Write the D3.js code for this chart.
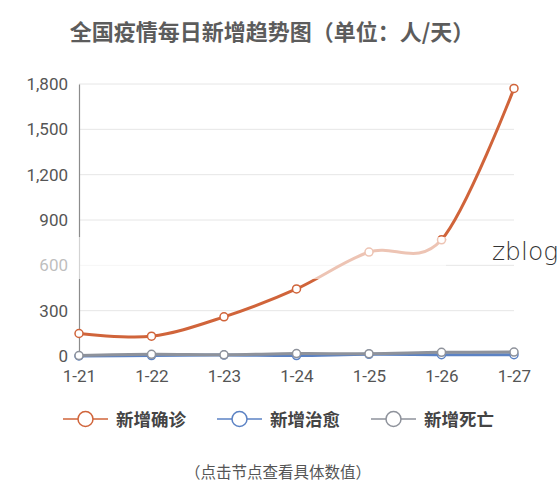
<!DOCTYPE html>
<html>
<head>
<meta charset="utf-8">
<script src="https://cdn.jsdelivr.net/npm/d3@7"></script>
<style>
  html, body { margin: 0; padding: 0; background: #fff; }
  svg { display: block; font-family: "Noto Sans CJK SC", "Noto Sans", sans-serif; }
</style>
</head>
<body>
<div id="chart"></div>
<script>
const days = ["1-21", "1-22", "1-23", "1-24", "1-25", "1-26", "1-27"];
const confirmed = [149, 131, 259, 444, 688, 769, 1771];
const cured = [0, 3, 6, 3, 11, 9, 9];
const deaths = [3, 11, 8, 16, 15, 24, 26];
const yTicks = [0, 300, 600, 900, 1200, 1500, 1800];
const seriesNames = ["新增确诊", "新增治愈", "新增死亡"];
const colors = ["#d0643a", "#5b82c4", "#8e929b"];

const width = 557;
const height = 500;
const margin = { top: 84, right: 43, bottom: 144, left: 79 };

const svg = d3.select("#chart").append("svg")
  .attr("width", width)
  .attr("height", height);

const x = d3.scalePoint()
  .domain(days)
  .range([margin.left, width - margin.right]);

const y = d3.scaleLinear()
  .domain([0, 1800])
  .range([height - margin.bottom, margin.top]);

// title
svg.append("text")
  .attr("x", 272)
  .attr("y", 40)
  .attr("text-anchor", "middle")
  .attr("font-size", 22)
  .attr("font-weight", "bold")
  .attr("fill", "#5c5c5c")
  .text("全国疫情每日新增趋势图（单位：人/天）");

// grid
svg.append("g")
  .selectAll("line")
  .data(yTicks.slice(1))
  .join("line")
  .attr("x1", margin.left)
  .attr("x2", width - margin.right)
  .attr("y1", d => y(d))
  .attr("y2", d => y(d))
  .attr("stroke", "#e6e6e6")
  .attr("stroke-width", 1);

// y axis
const gy = svg.append("g")
  .attr("transform", `translate(${margin.left},0)`)
  .call(d3.axisLeft(y).tickValues(yTicks).tickSize(0).tickPadding(11).tickFormat(d3.format(",")));
gy.select(".domain").attr("stroke", "#8c8c8c").attr("stroke-width", 1.2);
gy.selectAll("text")
  .attr("font-size", 17)
  .attr("fill", "#555")
  .attr("font-family", "Roboto, 'Noto Sans', sans-serif");

// x axis
const gx = svg.append("g")
  .attr("transform", `translate(0,${height - margin.bottom})`)
  .call(d3.axisBottom(x).tickSize(0).tickPadding(14));
gx.select(".domain").remove();
gx.selectAll("text")
  .attr("font-size", 17)
  .attr("fill", "#555")
  .attr("font-family", "Roboto, 'Noto Sans', sans-serif");

const line = d3.line()
  .x((d, i) => x(days[i]))
  .y(d => y(d))
  .curve(d3.curveCardinal.tension(0));

const series = [cured, deaths, confirmed];
const seriesColors = [colors[1], colors[2], colors[0]];

series.forEach((values, k) => {
  const g = svg.append("g");
  g.append("path")
    .datum(values)
    .attr("fill", "none")
    .attr("stroke", seriesColors[k])
    .attr("stroke-width", 3)
    .attr("d", line);
  g.selectAll("circle")
    .data(values)
    .join("circle")
    .attr("cx", (d, i) => x(days[i]))
    .attr("cy", d => y(d))
    .attr("r", 4)
    .attr("fill", "#fff")
    .attr("stroke", seriesColors[k])
    .attr("stroke-width", 1.5);
});

// faded band from the source picture
svg.append("rect")
  .attr("x", 0)
  .attr("y", 237)
  .attr("width", 446)
  .attr("height", 42)
  .attr("fill", "#fff")
  .attr("opacity", 0.62);

// watermark
svg.append("text")
  .attr("x", 492)
  .attr("y", 260)
  .attr("font-size", 25)
  .attr("font-family", "'DejaVu Sans', sans-serif")
  .attr("font-weight", 300)
  .attr("fill", "#333")
  .text("zblog");

// legend
const legend = svg.append("g");
const legendX = [63, 217, 371];
seriesNames.forEach((name, i) => {
  const lg = legend.append("g").attr("transform", `translate(${legendX[i]},419)`);
  lg.append("line")
    .attr("x1", 0).attr("x2", 45)
    .attr("stroke", colors[i]).attr("stroke-width", 1.5);
  lg.append("circle")
    .attr("cx", 22.5).attr("r", 7.5)
    .attr("fill", "#fff")
    .attr("stroke", colors[i]).attr("stroke-width", 1.5);
  lg.append("text")
    .attr("x", 53)
    .attr("y", 6.5)
    .attr("font-size", 17.5)
    .attr("font-weight", "bold")
    .attr("fill", "#444")
    .text(name);
});

svg.append("text")
  .attr("x", 278)
  .attr("y", 478)
  .attr("text-anchor", "middle")
  .attr("font-size", 15.5)
  .attr("fill", "#555")
  .text("（点击节点查看具体数值）");
</script>
</body>
</html>
